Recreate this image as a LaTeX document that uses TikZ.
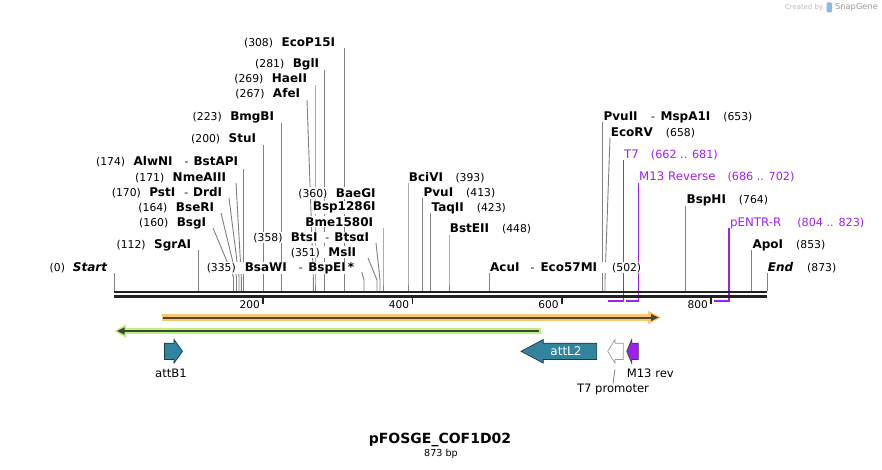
\documentclass[tikz,border=0pt]{standalone}
\usepackage{fontspec}
\setmainfont{DejaVu Sans}
\definecolor{cutgray}{RGB}{128,128,128}
\definecolor{primc}{RGB}{160,32,240}
\definecolor{bbk}{RGB}{34,34,34}
\definecolor{tealf}{RGB}{49,132,155}
\definecolor{tealdk}{RGB}{25,60,72}
\definecolor{orglow}{RGB}{250,200,110}
\definecolor{orline}{RGB}{85,70,50}
\definecolor{grglow}{RGB}{190,240,130}
\definecolor{grline}{RGB}{60,72,50}
\definecolor{wmgray}{RGB}{185,185,185}
\definecolor{logoc}{RGB}{140,185,225}
\newcommand\EnzN[1]{{\fontsize{12}{14}\selectfont\bfseries #1}}
\newcommand\EnzI[1]{{\fontsize{12}{14}\selectfont\bfseries\itshape #1}}
\newcommand\PosN[1]{{\fontsize{10.8}{13}\selectfont #1}}
\newcommand\PrN[1]{{\fontsize{11.8}{14}\selectfont #1}}
\newcommand\PrP[1]{{\fontsize{11.2}{14}\selectfont #1}}
\tikzset{
  cut/.style={draw=cutgray, line width=0.9pt},
  prim/.style={draw=primc, line width=1.4pt},
  labL/.style={anchor=base east, inner sep=0.7pt, fill=white},
  labR/.style={anchor=base west, inner sep=0.7pt, fill=white},
  bb/.style={draw=bbk, line width=2.6pt},
  tick/.style={draw=bbk, line width=1.6pt},
  featlab/.style={inner sep=0.5pt, font=\fontsize{11.6}{14}\selectfont},
  tealarrow/.style={fill=tealf, draw=tealdk, line width=0.7pt},
}
\begin{document}
\begin{tikzpicture}[x=1pt,y=-1pt]
\useasboundingbox[fill=white] (0,0) rectangle (882,470);

% ---- cut-site connectors
\foreach \n/\xa/\ya/\xk/\yk in {
  Start/114.3/273/114.3/280, SgrAI/198.5/250/198.5/280,
  BsgI/213/228/233.5/277, BseRI/221/213/236.5/277,
  PstI/229/198/239/277, Nme/236/183/241.3/277,
  AlwNI/243.5/169/243.5/277, StuI/263.3/145/263.3/280,
  BmgBI/281.5/123/281.5/280, AfeI/307/100/313.3/277,
  HaeII/315/85/315/280, BglI/324.3/70/324.3/280,
  EcoP/344.3/48/344.3/280, BsaWI/361.7/272/364/280,
  MslI/368/258/377/280, BtsI/376/243/380/280,
  Bme/383/228/383/280, BciVI/408/183/408/280,
  PvuI/422.7/198/422.7/280, TaqII/430.7/213/430.7/280,
  BstEII/449/235/449/280, AcuI/489.3/273/489.3/280,
  PvuII/602.7/122/602.7/280, EcoRV/610/137/605/280,
  BspHI/685.7/206/685.7/280, ApoI/751.7/250/751.7/280,
  End/767/273/767/280}
{
  \coordinate (a\n) at (\xa,\ya);
  \coordinate (k\n) at (\xk,\yk);
  \coordinate (b\n) at (\xk,291);
  \draw[cut] (a\n) -- (k\n) -- (b\n);
}

% ---- primer connectors
\foreach \n/\xa/\ya/\xs in {T7/623.3/160/608.3, M13/638.3/183/626, pENTR/729/228/714}
{
  \coordinate (pa\n) at (\xa,\ya);
  \coordinate (pb\n) at (\xa,301);
  \coordinate (pc\n) at (\xs,301);
  \draw[prim] (pa\n) -- (pb\n) -- (pc\n);
}

% ---- backbone
\coordinate (bbL1) at (114,292); \coordinate (bbR1) at (767,292);
\coordinate (bbL2) at (114,296.5); \coordinate (bbR2) at (767,296.5);
\draw[bb] (bbL1) -- (bbR1);
\draw[bb] (bbL2) -- (bbR2);

% ---- ticks
\foreach \x/\l in {263/200, 412.3/400, 561.7/600, 711/800}
{
  \coordinate (ta\l) at (\x,297.5);
  \coordinate (tb\l) at (\x,303.8);
  \draw[tick] (ta\l) -- (tb\l);
  \node[anchor=east, inner sep=0pt, font=\fontsize{10.6}{12}\selectfont] (tl\l) at (\x-3,304.5) {\l};
}

% ---- left labels
\node[labL] (lStart) at (108,271.2) {\PosN{(0)}\hspace{8pt}\EnzI{Start}};
\node[labL] (lSgrAI) at (192,248.2) {\PosN{(112)}\hspace{8.5pt}\EnzN{SgrAI}};
\node[labL] (lBsgI) at (207,226.2) {\PosN{(160)}\hspace{8.5pt}\EnzN{BsgI}};
\node[labL] (lBseRI) at (215,211.8) {\PosN{(164)}\hspace{8.5pt}\EnzN{BseRI}};
\node[labL] (lPstI) at (223,196.5) {\PosN{(170)}\hspace{8.5pt}\EnzN{PstI}\hspace{9pt}\PosN{-}\hspace{5pt}\EnzN{DrdI}};
\node[labL] (lNme) at (227,181.2) {\PosN{(171)}\hspace{8.5pt}\EnzN{NmeAIII}};
\node[labL] (lAlwNI) at (239,166) {\PosN{(174)}\hspace{8.5pt}\EnzN{AlwNI}\hspace{12pt}\PosN{-}\hspace{5pt}\EnzN{BstAPI}};
\node[labL] (lStuI) at (257,142.5) {\PosN{(200)}\hspace{8.5pt}\EnzN{StuI}};
\node[labL] (lBmgBI) at (275,121) {\PosN{(223)}\hspace{8.5pt}\EnzN{BmgBI}};
\node[labL] (lAfeI) at (301,97.5) {\PosN{(267)}\hspace{8.5pt}\EnzN{AfeI}};
\node[labL] (lHaeII) at (308,83) {\PosN{(269)}\hspace{8.5pt}\EnzN{HaeII}};
\node[labL] (lBglI) at (320,68) {\PosN{(281)}\hspace{8.5pt}\EnzN{BglI}};
\node[labL] (lEcoP) at (336,46.2) {\PosN{(308)}\hspace{8.5pt}\EnzN{EcoP15I}};
\node[labL] (lBsaWI) at (355,271.2) {\PosN{(335)}\hspace{9pt}\EnzN{BsaWI}\hspace{12pt}\PosN{-}\hspace{5.5pt}\EnzN{BspEI}\hspace{2pt}\EnzN{*}};
\node[labL] (lMslI) at (357,256) {\PosN{(351)}\hspace{8.5pt}\EnzN{MslI}};
\node[labL] (lBtsI) at (370,241) {\PosN{(358)}\hspace{8.5pt}\EnzN{BtsI}\hspace{8pt}\PosN{-}\hspace{5pt}\EnzN{BtsαI}};
\node[labL] (lBme) at (374,226) {\EnzN{Bme1580I}};
\node[labL] (lBsp) at (376.5,210.5) {\EnzN{Bsp1286I}};
\node[labL] (lBaeGI) at (376.5,197) {\PosN{(360)}\hspace{8.5pt}\EnzN{BaeGI}};

% ---- right labels
\node[labR] (rBciVI) at (408,181.2) {\EnzN{BciVI}\hspace{12.5pt}\PosN{(393)}};
\node[labR] (rPvuI) at (422.7,196.7) {\EnzN{PvuI}\hspace{13pt}\PosN{(413)}};
\node[labR] (rTaqII) at (430.7,211.2) {\EnzN{TaqII}\hspace{13pt}\PosN{(423)}};
\node[labR] (rBstEII) at (449,233) {\EnzN{BstEII}\hspace{13pt}\PosN{(448)}};
\node[labR] (rAcuI) at (489.3,271.2) {\EnzN{AcuI}\hspace{11pt}\PosN{-}\hspace{6pt}\EnzN{Eco57MI}\hspace{15pt}\PosN{(502)}};
\node[labR] (rPvuII) at (602.7,120.2) {\EnzN{PvuII}\hspace{13.5pt}\PosN{-}\hspace{5.5pt}\EnzN{MspA1I}\hspace{13pt}\PosN{(653)}};
\node[labR] (rEcoRV) at (610,136.2) {\EnzN{EcoRV}\hspace{13pt}\PosN{(658)}};
\node[labR, text=primc] (rT7) at (623.3,158.4) {\PrN{T7}\hspace{12pt}\PrP{(662 .. 681)}};
\node[labR, text=primc] (rM13) at (638.3,181) {\PrN{M13 Reverse}\hspace{12pt}\PrP{(686 .. 702)}};
\node[labR] (rBspHI) at (685.7,203.2) {\EnzN{BspHI}\hspace{13pt}\PosN{(764)}};
\node[labR, text=primc] (rpENTR) at (729.3,226) {\PrN{pENTR-R}\hspace{16pt}\PrP{(804 .. 823)}};
\node[labR] (rApoI) at (751.7,248.2) {\EnzN{ApoI}\hspace{13pt}\PosN{(853)}};
\node[labR] (rEnd) at (767,271.2) {\EnzI{End}\hspace{14pt}\PosN{(873)}};

% ---- feature bars
\draw[orglow, line width=6.5pt] (161.5,317.5) -- (652,317.5);
\fill[orglow] (648,310.8) -- (661,317.5) -- (648,324.2) -- cycle;
\draw[orline, line width=2pt] (163,317.5) -- (652,317.5);
\fill[orline] (651,313.8) -- (658.5,317.5) -- (651,321.2) -- cycle;

\draw[grglow, line width=6.5pt] (124,331) -- (541,331);
\fill[grglow] (126,324.3) -- (114.5,331) -- (126,337.7) -- cycle;
\draw[grline, line width=2pt] (122,331) -- (539.3,331);
\fill[grline] (124.5,327.3) -- (117,331) -- (124.5,334.7) -- cycle;

% ---- features
\draw[tealarrow] (164.4,343.2) -- (174,343.2) -- (174,339.5) -- (182.5,351.3) -- (174,363.1) -- (174,359.4) -- (164.4,359.4) -- cycle;
\node[featlab] (fattB1) at (171,373) {attB1};

\draw[tealarrow] (596.7,343.2) -- (543.3,343.2) -- (543.3,339.5) -- (521,351.3) -- (543.3,363.1) -- (543.3,359.4) -- (596.7,359.4) -- cycle;
\node[featlab, text=white, font=\fontsize{12}{14}\selectfont] (fattL2) at (566,351) {attL2};

\draw[fill=white, draw=gray!80, line width=0.7pt] (623.3,343.2) -- (615,343.2) -- (615,339.5) -- (607.7,351.3) -- (615,363.1) -- (615,359.4) -- (623.3,359.4) -- cycle;
\coordinate (t7pa) at (615,369.5);
\node[featlab] (ft7p) at (613,389.5) {T7 promoter};
\draw[cutgray, line width=0.8pt] (t7pa) -- (ft7p.north);

\draw[fill=primc, draw=black!75, line width=0.7pt] (638.3,343.2) -- (631.7,343.2) -- (631.7,339.5) -- (626.7,351.3) -- (631.7,363.1) -- (631.7,359.4) -- (638.3,359.4) -- cycle;
\node[featlab] (fm13) at (650.3,373) {M13 rev};

% ---- title
\node[inner sep=0pt, font=\fontsize{14}{16}\selectfont\bfseries] (title) at (440,439.5) {pFOSGE\_COF1D02};
\node[inner sep=0pt, font=\fontsize{9.6}{11}\selectfont] (size) at (441,453.5) {873 bp};

% ---- watermark
\node[inner sep=0pt, text=wmgray, font=\fontsize{6.9}{8}\selectfont] (wm1) at (804,7.5) {Created by};
\fill[logoc, rounded corners=1.2pt] (826.5,2.5) rectangle (832,12.5);
\node[inner sep=0pt, text=gray!80, font=\fontsize{8.3}{10}\selectfont] (wm2) at (856.5,7.5) {SnapGene};
\end{tikzpicture}
\end{document}
